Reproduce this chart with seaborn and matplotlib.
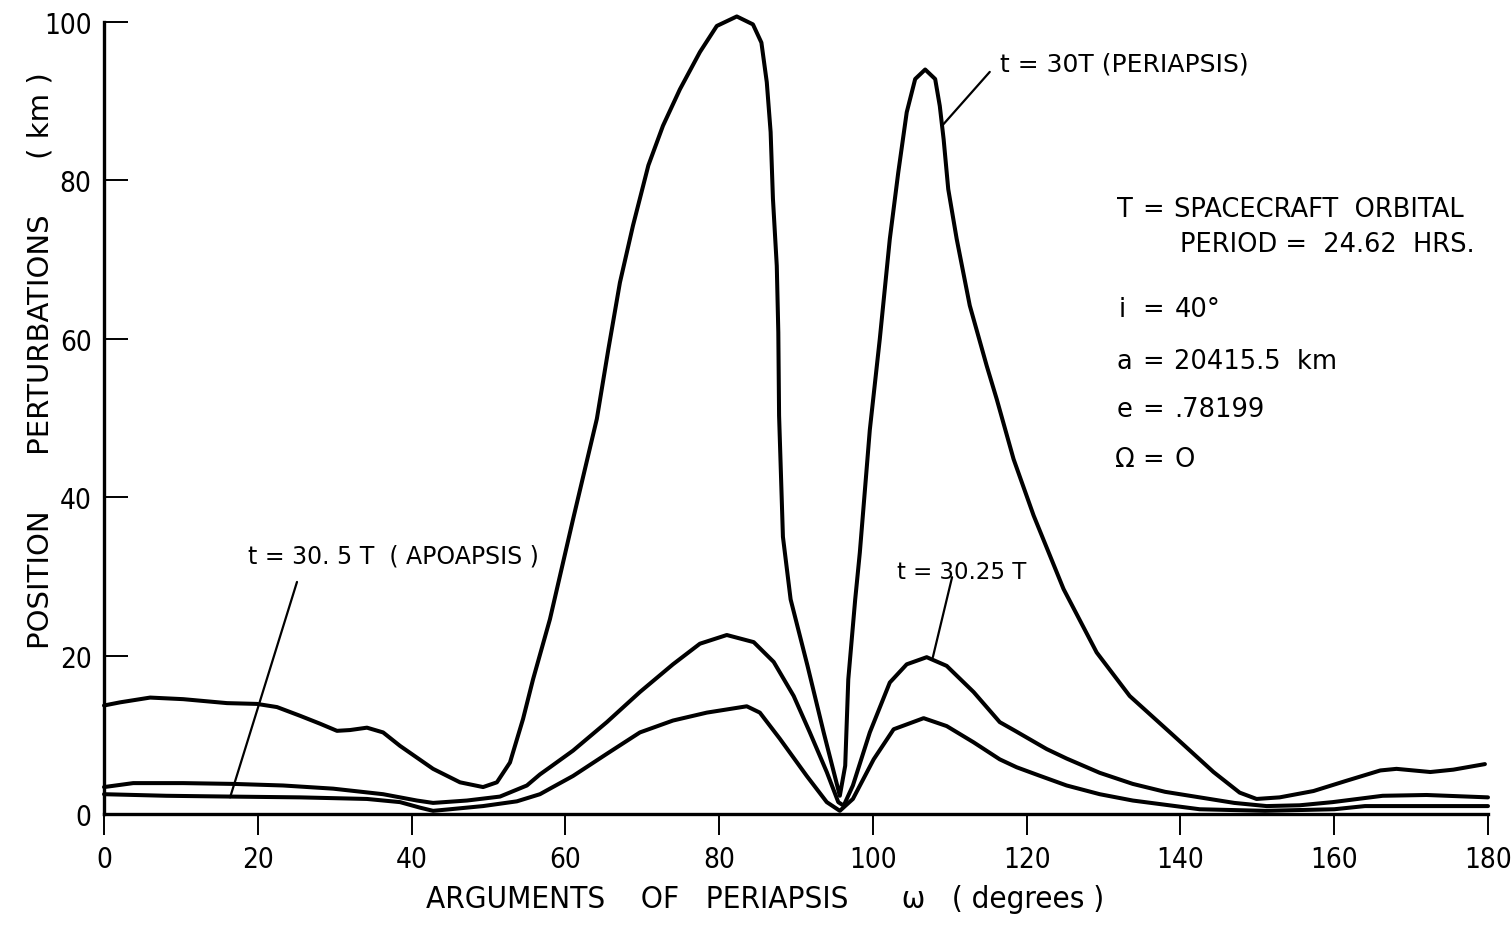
import numpy as np
import pandas as pd
import matplotlib
matplotlib.use("Agg")
import matplotlib.pyplot as plt
from matplotlib import font_manager
import seaborn as sns

# ---- data ----
x_peri = [0, 2.1, 6.0, 10.3, 16.0, 19.9, 22.5, 25.5, 28.1, 30.3, 32.0, 34.2, 36.3, 38.5, 42.8, 46.3,
          49.3, 51.1, 52.8, 54.5, 55.8, 58.0, 61.0, 64.1, 65.6, 67.1, 68.8, 70.8, 72.7, 74.9, 77.5,
          79.7, 82.3, 84.4, 85.5, 86.2, 86.7, 87.0, 87.5, 87.7, 87.8, 88.3, 89.3, 91.5, 93.6, 95.7,
          96.4, 96.8, 97.7, 98.3, 99.6, 100.9, 102.2, 103.3, 104.4, 105.5, 106.8, 108.1, 108.7,
          109.2, 109.8, 110.9, 112.6, 114.8, 116.1, 118.3, 120.9, 124.8, 129.1, 133.4, 139.1,
          144.3, 147.7, 149.9, 152.9, 157.3, 161.6, 166.0, 168.1, 172.5, 175.5, 179.6]
y_peri = [13.7, 14.1, 14.7, 14.5, 14.0, 13.9, 13.5, 12.4, 11.4, 10.5, 10.6, 10.9, 10.3, 8.6, 5.7, 4.0,
          3.4, 4.0, 6.5, 12.0, 17.0, 24.6, 37.2, 49.9, 58.7, 67.1, 74.3, 81.9, 86.9, 91.5, 96.2,
          99.5, 100.7, 99.7, 97.4, 92.4, 86.1, 77.7, 69.2, 60.8, 50.3, 35.0, 27.1, 18.7, 10.3, 2.3,
          6.1, 17.0, 27.1, 33.0, 48.5, 60.0, 72.6, 81.0, 88.6, 92.8, 94.0, 92.8, 89.4,
          85.2, 78.9, 72.6, 64.2, 56.6, 52.4, 44.8, 37.7, 28.4, 20.4, 14.9, 9.9,
          5.3, 2.7, 1.9, 2.1, 2.9, 4.2, 5.5, 5.7, 5.3, 5.6, 6.3]

x_q = [0, 3.8, 10.3, 16.8, 23.3, 29.8, 36.3, 40.7, 42.8, 47.2, 51.5, 55.0, 56.7, 58.0, 61.0, 65.4,
       69.7, 74.0, 77.5, 81.0, 84.5, 87.1, 89.7, 91.8, 94.0, 95.5, 96.2, 97.4, 99.6, 102.2, 104.4,
       107.0, 109.6, 113.1, 116.5, 118.5, 122.6, 125.2, 129.5, 133.8, 138.0, 142.5, 147.0, 151.2,
       155.5, 159.8, 166.3, 172.0, 180.0]
y_q = [3.4, 3.9, 3.9, 3.8, 3.6, 3.2, 2.5, 1.7, 1.4, 1.7, 2.2, 3.6, 5.0, 5.9, 8.0, 11.6,
       15.4, 18.9, 21.5, 22.6, 21.7, 19.2, 14.9, 10.3, 5.3, 1.5, 1.05, 3.6, 10.3, 16.6, 18.9,
       19.8, 18.7, 15.4, 11.6, 10.5, 8.2, 7.0, 5.2, 3.8, 2.8, 2.1, 1.4, 1.0,
       1.1, 1.5, 2.3, 2.4, 2.1]

x_apo = [0, 8.1, 16.4, 25.5, 34.2, 38.5, 41.1, 42.8, 45.0, 49.3, 53.7, 56.7, 58.0, 61.0, 65.4, 69.7,
         74.0, 78.4, 83.6, 85.3, 87.9, 91.4, 94.0, 95.7, 97.4, 100.1, 102.7, 106.6, 109.6, 113.1,
         116.5, 118.7, 121.5, 125.2, 129.5, 133.8, 142.5, 151.0, 160.0, 164.0, 170.0, 180.0]
y_apo = [2.5, 2.3, 2.2, 2.1, 1.9, 1.5, 0.8, 0.4, 0.6, 1.0, 1.6, 2.5, 3.2, 4.8, 7.6, 10.3,
         11.8, 12.8, 13.6, 12.8, 9.5, 4.8, 1.5, 0.4, 1.9, 6.9, 10.7, 12.1, 11.1, 9.05,
         6.9, 5.9, 4.9, 3.6, 2.5, 1.7, 0.6, 0.4, 0.6, 1.0, 1.0, 1.0]

x_ticks = [0, 20, 40, 60, 80, 100, 120, 140, 160, 180]
y_ticks = [0, 20, 40, 60, 80, 100]

series = {
    "t=30T": (x_peri, y_peri),
    "t=30.25T": (x_q, y_q),
    "t=30.5T": (x_apo, y_apo),
}
frames = []
for name, (xs, ys) in series.items():
    frames.append(pd.DataFrame({"omega": xs, "pert": ys, "series": name}))
df = pd.concat(frames, ignore_index=True)

# ---- style ----
sns.set_theme(style="ticks")
plt.rcParams["font.family"] = ["DejaVu Sans"]
plt.rcParams["text.color"] = "black"

# look for a narrow / condensed face for the numerals
narrow_file = None
for f in font_manager.fontManager.ttflist:
    fn = f.fname.lower()
    if ("narrow" in fn or "condensed" in fn) and "bold" not in fn and "italic" not in fn \
            and "oblique" not in fn and "mono" not in fn and "serif" not in fn:
        narrow_file = f.fname
        break
if narrow_file:
    tick_fp = font_manager.FontProperties(fname=narrow_file, size=20)
    xlab_fp = font_manager.FontProperties(fname=narrow_file, size=22.5)
else:
    tick_fp = font_manager.FontProperties(family="DejaVu Sans", size=17)
    xlab_fp = font_manager.FontProperties(family="DejaVu Sans", size=20)

fig = plt.figure(figsize=(15.11, 9.29), dpi=100)
ax = fig.add_axes([104 / 1511, 114 / 929, 1384 / 1511, 792 / 929])

sns.lineplot(data=df, x="omega", y="pert", units="series", estimator=None, sort=False,
             color="black", linewidth=2.9, ax=ax, legend=False, clip_on=False)
for ln in ax.lines:
    ln.set_solid_joinstyle("round")
    ln.set_solid_capstyle("round")

ax.set_xlim(0, 180)
ax.set_ylim(0, 100)
ax.set_xticks(x_ticks)
ax.set_yticks(y_ticks)
ax.set_xticklabels([str(v) for v in x_ticks], fontproperties=tick_fp)
ax.set_yticklabels([str(v) for v in y_ticks], fontproperties=tick_fp)
ax.tick_params(axis="x", direction="out", length=15, width=1.4, color="black", pad=7,
               labelcolor="black")
ax.tick_params(axis="y", direction="in", length=17, width=1.4, color="black", pad=9,
               labelcolor="black")
for s in ["top", "right"]:
    ax.spines[s].set_visible(False)
for s in ["left", "bottom"]:
    ax.spines[s].set_linewidth(2.4)
    ax.spines[s].set_color("black")

ax.set_xlabel("ARGUMENTS    OF   PERIAPSIS      \u03c9   ( degrees )", fontproperties=xlab_fp,
              color="black")
ax.xaxis.set_label_coords(0.478, -0.088)
ax.set_ylabel("POSITION      PERTURBATIONS      ( km )", fontsize=21, color="black")
ax.yaxis.set_label_coords(-0.036, 0.574)

# ---- annotations ----
lead = dict(arrowstyle="-", color="black", lw=1.6, shrinkA=0, shrinkB=0)
ax.annotate("", xy=(109.0, 86.9), xytext=(115.2, 93.7), arrowprops=lead)
ax.text(116.5, 94.7, "t = 30T (PERIAPSIS)", fontsize=18, va="center", ha="left")

ax.annotate("", xy=(16.4, 2.1), xytext=(25.1, 29.3), arrowprops=lead)
ax.text(18.7, 32.6, "t = 30. 5 T  ( APOAPSIS )", fontsize=17, va="center", ha="left")

ax.annotate("", xy=(107.8, 19.8), xytext=(110.3, 29.9), arrowprops=lead)
ax.text(103.1, 30.6, "t = 30.25 T", fontsize=16.5, va="center", ha="left")

fs = 18.5
ax.text(131.7, 76.4, "T", fontsize=fs, va="center", ha="left")
ax.text(135.0, 76.4, "=", fontsize=fs, va="center", ha="left")
ax.text(139.2, 76.4, "SPACECRAFT  ORBITAL", fontsize=fs, va="center", ha="left")
ax.text(139.9, 72.0, "PERIOD =  24.62  HRS.", fontsize=fs, va="center", ha="left")
ax.text(131.9, 63.8, "i", fontsize=fs, va="center", ha="left")
ax.text(135.0, 63.8, "=", fontsize=fs, va="center", ha="left")
ax.text(139.2, 63.8, "40\u00b0", fontsize=fs, va="center", ha="left")
ax.text(131.7, 57.2, "a", fontsize=fs, va="center", ha="left")
ax.text(135.0, 57.2, "=", fontsize=fs, va="center", ha="left")
ax.text(139.2, 57.2, "20415.5  km", fontsize=fs, va="center", ha="left")
ax.text(131.7, 51.1, "e", fontsize=fs, va="center", ha="left")
ax.text(135.0, 51.1, "=", fontsize=fs, va="center", ha="left")
ax.text(139.2, 51.1, ".78199", fontsize=fs, va="center", ha="left")
ax.text(131.5, 44.8, "\u03a9", fontsize=fs, va="center", ha="left")
ax.text(135.0, 44.8, "=", fontsize=fs, va="center", ha="left")
ax.text(139.2, 44.8, "O", fontsize=fs, va="center", ha="left")

fig.savefig("out.png", dpi=100, facecolor="white")
